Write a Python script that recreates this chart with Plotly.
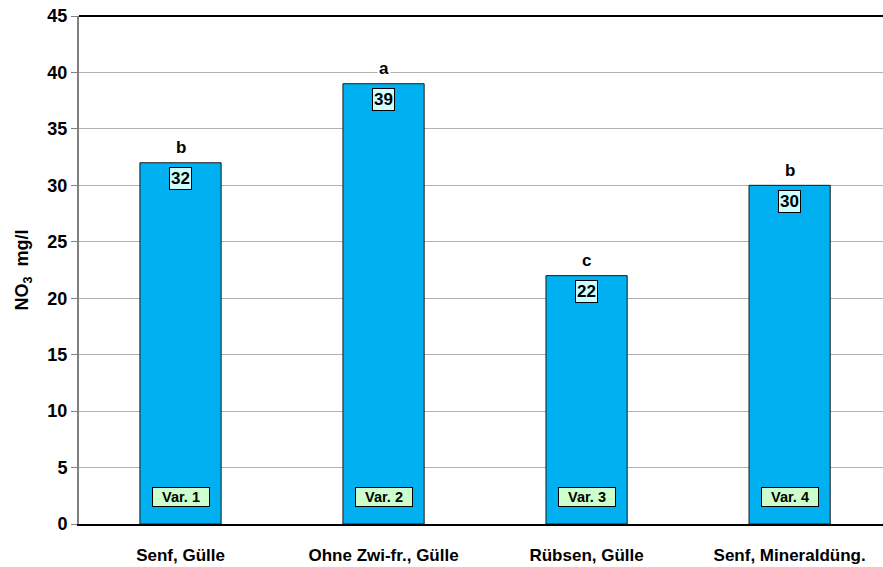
import plotly.graph_objects as go

categories = ["Senf, Gülle", "Ohne Zwi-fr., Gülle", "Rübsen, Gülle", "Senf, Mineraldüng."]
values = [32, 39, 22, 30]
letters = ["b", "a", "c", "b"]
var_labels = ["Var. 1", "Var. 2", "Var. 3", "Var. 4"]
y_ticks = [0, 5, 10, 15, 20, 25, 30, 35, 40, 45]

FONT = "Liberation Sans, Arial, sans-serif"

fig = go.Figure()
fig.add_trace(go.Bar(
    x=list(range(len(categories))), y=values,
    marker=dict(color="#00B0F0", line=dict(color="#1a1a1a", width=1)),
    width=0.4, showlegend=False, hoverinfo="skip",
))

annotations = []
for i, (v, l, vl) in enumerate(zip(values, letters, var_labels)):
    annotations.append(dict(x=i, y=v, xref="x", yref="y", text="<b>%s</b>" % l,
                            showarrow=False, yshift=15, bgcolor="white",
                            font=dict(family=FONT, size=17, color="black")))
    annotations.append(dict(x=i, y=v, xref="x", yref="y", text="<b>%d</b>" % v,
                            showarrow=False, yshift=-16, bgcolor="#CCFFFF",
                            bordercolor="black", borderwidth=1, borderpad=1,
                            font=dict(family=FONT, size=17, color="black")))
    annotations.append(dict(x=i, y=0, xref="x", yref="y", text="<b>%s</b>" % vl,
                            showarrow=False, yshift=27, bgcolor="#CCFFCC",
                            bordercolor="black", borderwidth=1, borderpad=1,
                            width=54,
                            font=dict(family=FONT, size=14.5, color="black")))

fig.update_layout(
    width=883, height=567,
    margin=dict(l=79, r=0, t=16, b=43),
    paper_bgcolor="white", plot_bgcolor="white",
    font=dict(family=FONT, color="black"),
    annotations=annotations,
    shapes=[dict(type="line", xref="paper", yref="paper", x0=0, x1=1, y0=1, y1=1,
                 line=dict(color="black", width=2))],
    xaxis=dict(
        range=[-0.5, 3.46], tickmode="array",
        tickvals=list(range(len(categories))),
        ticktext=["<b>%s</b>" % c for c in categories],
        tickfont=dict(family=FONT, size=17, color="black"),
        showgrid=False, showline=True, linecolor="black", linewidth=2,
        ticks="", ticklabelstandoff=15, zeroline=False,
    ),
    yaxis=dict(
        range=[0, 45], tickmode="array", tickvals=y_ticks,
        ticktext=["<b>%d</b>" % t for t in y_ticks],
        tickfont=dict(family=FONT, size=18, color="black"),
        showgrid=True, gridcolor="#b0b0b0", gridwidth=1,
        showline=True, linecolor="#808080", linewidth=2,
        ticks="outside", ticklen=6, tickcolor="#808080",
        zeroline=False,
        title=dict(text="<b>NO<sub>3</sub>  mg/l</b>", font=dict(family=FONT, size=18, color="black"),
                   standoff=14),
    ),
)

fig.write_html("out.html")
